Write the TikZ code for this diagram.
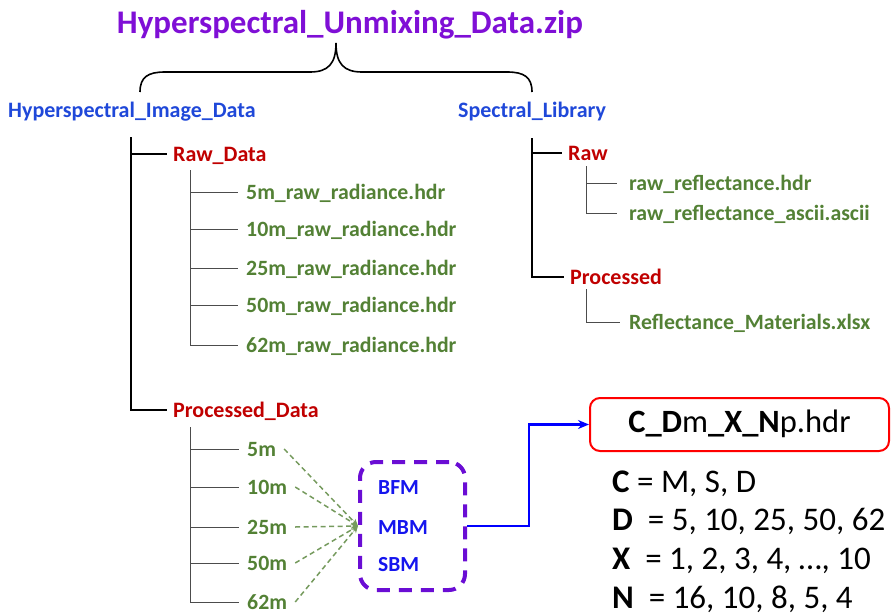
\documentclass[tikz,border=0pt]{standalone}
\usepackage{fontspec}
\setmainfont{Carlito}
\usetikzlibrary{arrows.meta, positioning}
\definecolor{zippurple}{HTML}{7F0FD6}
\definecolor{headblue}{HTML}{1F48D9}
\definecolor{folderred}{HTML}{C00000}
\definecolor{filegreen}{HTML}{538135}
\definecolor{methblue}{HTML}{1515EE}
\definecolor{boxpurple}{HTML}{6A0DD4}

\begin{document}
\begin{tikzpicture}[x=1pt, y=-1pt,
  heading/.style={anchor=west, inner sep=0pt, text height=14pt, text depth=0pt, text=headblue, font=\bfseries\fontsize{22}{26}\selectfont},
  folder/.style={anchor=west, inner ysep=0pt, inner xsep=6pt, text height=14pt, text depth=0pt, text=folderred, font=\bfseries\fontsize{22}{26}\selectfont},
  file/.style={anchor=west, inner ysep=0pt, inner xsep=8pt, text height=14pt, text depth=0pt, text=filegreen, font=\bfseries\fontsize{21.8}{26}\selectfont},
  method/.style={anchor=west, inner sep=0pt, text height=14pt, text depth=0pt, text=methblue, font=\bfseries\fontsize{21.5}{24}\selectfont},
  legend/.style={anchor=west, inner sep=0pt, text height=21pt, text depth=0pt, font=\fontsize{33}{36}\selectfont},
  trunk/.style={line width=2.4pt, black},
  branch/.style={line width=1pt, black!70},
  feed/.style={dash pattern=on 5pt off 3.5pt, line width=1.5pt, filegreen!80, -{Stealth[length=7pt,width=6pt]}},
  flow/.style={line width=2.2pt, blue, -{Stealth[length=11pt,width=9pt]}}
]
\useasboundingbox (0,0) rectangle (892,616);

% Archive name and brace
\node[text=zippurple, font=\bfseries\fontsize{33}{38}\selectfont, inner sep=0pt, text height=22pt, text depth=0pt] (zip) at (350,22) {Hyperspectral\_Unmixing\_Data.zip};
\draw[line width=1.6pt] (140,92) .. controls (140,77) and (148,72) .. (165,72) -- (310,72)
  .. controls (328,72) and (336,64) .. (336,43)
  .. controls (336,64) and (344,72) .. (362,72) -- (507,72)
  .. controls (524,72) and (532,77) .. (532,92);

% Top level folders
\node[heading] (imgdata) at (8,110) {Hyperspectral\_Image\_Data};
\node[heading] (speclib) at (458,110) {Spectral\_Library};

% Hyperspectral image data tree
\coordinate (imgroot) at (131,137);
\node[folder] (rawdata) at (167,154) {Raw\_Data};
\node[folder] (procdata) at (167,410) {Processed\_Data};
\draw[trunk] (imgroot) |- (rawdata.west);
\draw[trunk] (imgroot) |- (procdata.west);

\coordinate (rawbranch) at (190,170);
\foreach \d/\y in {5/192, 10/229, 25/268, 50/305, 62/345} {
  \node[file] (raw\d) at (238,\y) {\d m\_raw\_radiance.hdr};
  \draw[branch] (rawbranch) |- (raw\d.west);
}

% Processed data and unmixing methods
\node[draw=boxpurple, line width=4pt, dash pattern=on 13pt off 9pt, rounded corners=16pt,
  minimum width=105pt, minimum height=128pt] (methods) at (412.5,526) {};
\node[method] (bfm) at (378,487) {BFM};
\node[method] (mbm) at (378,527) {MBM};
\node[method] (sbm) at (378,564) {SBM};

\coordinate (procbranch) at (190,427);
\foreach \d/\y in {5/449, 10/487, 25/527, 50/563, 62/602} {
  \node[file] (proc\d) at (239,\y) {\d m};
  \draw[branch] (procbranch) |- (proc\d.west);
  \draw[feed] (proc\d.east) -- (methods.west);
}

% Output file name and legend
\node[draw=red, line width=2pt, rounded corners=10pt, minimum width=299pt, minimum height=53pt,
  text height=21pt, text depth=6pt, font=\fontsize{32.5}{36}\selectfont] (fname) at (739.5,424.5) {\textbf{C\_D}m\textbf{\_X\_N}p.hdr};
\draw[flow] (methods.east) -- ++(62,0) |- (fname.west);

\node[legend] (legc) at (612,482) {\textbf{C} = M, S, D};
\node[legend] (legd) at (612,520) {\textbf{D}\ \ = 5, 10, 25, 50, 62};
\node[legend] (legx) at (612,559) {\textbf{X}\ \ = 1, 2, 3, 4, \dots, 10};
\node[legend] (legn) at (612,598) {\textbf{N}\ \ = 16, 10, 8, 5, 4};

% Spectral library tree
\coordinate (libroot) at (532,138);
\node[folder] (libraw) at (562,153) {Raw};
\node[folder] (libproc) at (564,277) {Processed};
\draw[trunk] (libroot) |- (libraw.west);
\draw[trunk] (libroot) |- (libproc.west);

\coordinate (rawlibbranch) at (586,166);
\node[file, inner xsep=12pt] (rawhdr) at (617,183) {raw\_reflectance.hdr};
\node[file, inner xsep=12pt] (rawascii) at (617,213) {raw\_reflectance\_ascii.ascii};
\draw[branch] (rawlibbranch) |- (rawhdr.west);
\draw[branch] (rawlibbranch) |- (rawascii.west);

\coordinate (proclibbranch) at (586,289);
\node[file, inner xsep=9pt] (materials) at (620,322) {Reflectance\_Materials.xlsx};
\draw[branch] (proclibbranch) |- (materials.west);
\end{tikzpicture}
\end{document}
